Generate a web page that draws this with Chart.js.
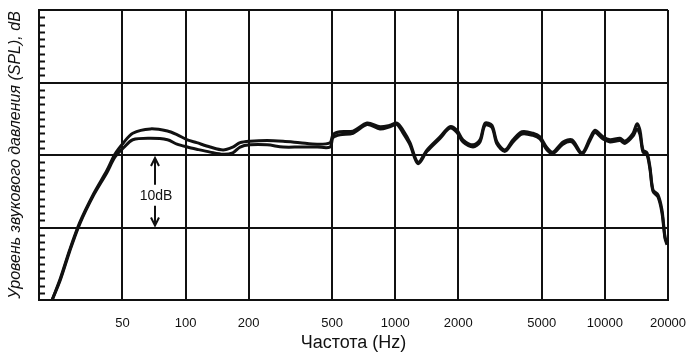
<!DOCTYPE html>
<html>
<head>
<meta charset="utf-8">
<script src="https://cdn.jsdelivr.net/npm/chart.js@4.4.0/dist/chart.umd.min.js"></script>
<style>
  html, body { margin: 0; padding: 0; background: #fff; }
  #wrap { width: 691px; height: 359px; }
</style>
</head>
<body>
<div id="wrap"><canvas id="spl"></canvas></div>
<script>
// frequency points (Hz) and the two measured curves (dB)
const freqs = [23.1, 25.3, 28.0, 31.3, 36.5, 42.2, 46.0, 50.6, 56, 68, 82, 91, 102, 113, 131, 151, 168, 182,
  203, 245, 292, 351, 424, 489, 505, 545, 629, 734, 846, 944, 1020, 1090, 1176, 1284, 1418, 1636, 1826,
  1970, 2104, 2350, 2537, 2682, 2894, 3058, 3340, 3646, 4024, 4540, 4904, 5296, 5656, 6312, 6968, 7778,
  8492, 8972, 9796, 10576, 11804, 12472, 13616, 14228, 14704, 15196, 15880, 16412, 16960, 17920, 18720,
  19352, 19780];
const upperDb = [0, 3.0, 6.9, 10.7, 14.7, 17.9, 20.1, 21.7, 23.0, 23.6, 23.3, 22.8, 22.1, 21.7, 21.1, 20.7, 21.1, 21.7,
  21.9, 22.0, 21.9, 21.7, 21.5, 21.7, 22.8, 23.2, 23.3, 24.4, 23.9, 24.1, 24.4, 23.4, 21.7, 19.0, 20.7, 22.5, 23.9,
  23.4, 22.1, 21.4, 22.1, 24.4, 24.1, 21.8, 20.7, 22.1, 23.2, 23.0, 22.5, 21.0, 20.4, 21.8, 22.1, 20.3,
  22.3, 23.4, 22.5, 22.1, 22.3, 21.9, 23.0, 24.3, 23.4, 20.7, 20.3, 18.3, 15.2, 14.5, 12.4,
  8.7, 7.9];
const lowerDb = [0, 2.8, 6.7, 10.5, 14.5, 17.6, 19.7, 21.0, 22.1, 22.3, 22.1, 21.5, 21.1, 20.8, 20.4, 20.1, 20.3, 21.1,
  21.4, 21.4, 21.1, 21.1, 21.1, 21.1, 22.4, 22.8, 23.0, 24.2, 23.6, 23.9, 24.2, 23.0, 21.4, 18.8, 20.5, 22.3, 23.7,
  23.1, 21.8, 21.1, 21.8, 24.1, 23.8, 21.5, 20.5, 21.8, 22.9, 22.7, 22.2, 20.7, 20.2, 21.5, 21.8, 20.1,
  22.0, 23.1, 22.2, 21.8, 22.0, 21.6, 22.6, 23.6, 22.8, 20.4, 20.0, 18.0, 15.0, 14.2, 12.0,
  8.5, 7.6];
const xTicks = [50, 100, 200, 500, 1000, 2000, 5000, 10000, 20000];
const yMajor = [0, 10, 20, 30, 40];

const arrowFreq = 71.5;
const arrowFrom = 20, arrowTo = 10;

const ink = '#111';

// short 1 dB ticks inside the left border + the "10dB" arrow
const marks = {
  id: 'marks',
  afterDatasetsDraw(chart) {
    const { ctx, chartArea: a, scales: { x, y } } = chart;
    ctx.save();
    ctx.strokeStyle = ink;
    ctx.lineWidth = 2;
    for (let v = 1; v < 40; v++) {
      if (v % 10 === 0) continue;
      const py = Math.round(y.getPixelForValue(v)) + 0.5;
      ctx.beginPath();
      ctx.moveTo(a.left, py);
      ctx.lineTo(a.left + 6, py);
      ctx.stroke();
    }
    const ax = Math.round(x.getPixelForValue(arrowFreq));
    const yTop = y.getPixelForValue(arrowFrom) + 3;
    const yBot = y.getPixelForValue(arrowTo) - 2;
    const mid = (yTop + yBot) / 2 + 3;
    ctx.lineWidth = 2;
    ctx.beginPath();
    ctx.moveTo(ax, yTop); ctx.lineTo(ax, mid - 10);
    ctx.moveTo(ax, mid + 11); ctx.lineTo(ax, yBot);
    ctx.moveTo(ax - 4, yTop + 8); ctx.lineTo(ax, yTop); ctx.lineTo(ax + 4, yTop + 8);
    ctx.moveTo(ax - 4, yBot - 8); ctx.lineTo(ax, yBot); ctx.lineTo(ax + 4, yBot - 8);
    ctx.stroke();
    ctx.fillStyle = ink;
    ctx.font = '14px "Liberation Sans", Arial, sans-serif';
    ctx.textAlign = 'center';
    ctx.textBaseline = 'middle';
    ctx.fillText('10dB', ax + 1, mid + 1);
    ctx.restore();
  }
};

const pts = arr => freqs.map((f, i) => ({ x: f, y: arr[i] }));

new Chart(document.getElementById('spl'), {
  type: 'line',
  data: {
    datasets: [
      { label: 'upper', data: pts(upperDb), borderColor: ink, borderWidth: 3, pointRadius: 0, tension: 0.3, fill: false },
      { label: 'lower', data: pts(lowerDb), borderColor: ink, borderWidth: 3, pointRadius: 0, tension: 0.3, fill: false }
    ]
  },
  options: {
    responsive: true,
    maintainAspectRatio: false,
    animation: false,
    layout: { padding: { top: 10, right: 23, bottom: 0, left: 0 } },
    plugins: { legend: { display: false }, tooltip: { enabled: false } },
    scales: {
      x: {
        type: 'logarithmic',
        min: 20,
        max: 20000,
        afterBuildTicks: s => { s.ticks = xTicks.map(v => ({ value: v })); },
        afterFit: s => { s.height = 59; s.paddingLeft = 0; s.paddingRight = 0; },
        grid: { color: ink, lineWidth: 2, drawTicks: false },
        border: { color: ink, width: 2 },
        ticks: {
          color: ink,
          padding: 16,
          autoSkip: false,
          maxRotation: 0,
          font: { family: '"Liberation Sans", Arial, sans-serif', size: 13 },
          callback: v => String(v)
        },
        title: {
          display: true,
          text: 'Частота (Hz)',
          color: ink,
          padding: { top: 0, bottom: 5 },
          font: { family: '"Liberation Sans", Arial, sans-serif', size: 18 }
        }
      },
      y: {
        min: 0,
        max: 40,
        afterBuildTicks: s => { s.ticks = yMajor.map(v => ({ value: v })); },
        afterFit: s => { s.width = 39; },
        grid: { color: ink, lineWidth: 2, drawTicks: false },
        border: { color: ink, width: 2 },
        ticks: { display: false },
        title: {
          display: true,
          text: 'Уровень звукового давления (SPL), dB',
          color: ink,
          padding: { top: 6, bottom: 0 },
          font: { family: '"Liberation Sans", Arial, sans-serif', size: 16, style: 'italic' }
        }
      }
    }
  },
  plugins: [marks]
});
</script>
</body>
</html>
